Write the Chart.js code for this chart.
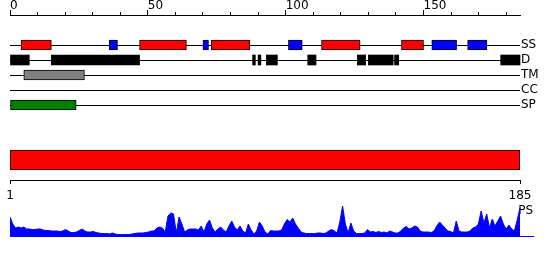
<!DOCTYPE html>
<html>
<head>
<meta charset="utf-8">
<script src="https://cdn.jsdelivr.net/npm/chart.js@4/dist/chart.umd.min.js"></script>
<style>
  html, body { margin: 0; padding: 0; background: #fff; }
  #wrap { position: relative; width: 550px; height: 260px; overflow: hidden; }
  canvas { position: absolute; left: 0; }
</style>
</head>
<body>
<div id="wrap">
  <canvas id="tracks" width="550" height="130" style="top:0px"></canvas>
  <canvas id="seq" width="550" height="69" style="top:140px"></canvas>
  <canvas id="ps" width="550" height="49" style="top:195px"></canvas>
</div>
<script>
// ---------------- data ----------------
const rulerMax = 185;
const rulerStep = 10;
const rulerLabelEvery = 50;
const rowLabels = ['', ' ', 'SS', 'D', 'TM', 'CC', 'SP', '  '];

const ssHelix = [[4, 15], [47, 64], [73, 87], [113, 127], [142, 150]];
const ssStrand = [[36, 39], [70, 72], [101, 106], [153, 162], [166, 173]];
const disorder = [[0, 7], [15, 47], [88, 89], [90, 91], [93, 97], [108, 111], [126, 129], [130, 139], [139.5, 141], [178, 185]];
const transmembrane = [[5, 27]];
const coiledCoil = [];
const signalPeptide = [[0, 24]];

const seqStart = 1;
const seqEnd = 185;
const seqTicks = [1, 185];

const psLabel = 'PS';
const psValues = [
  19, 12, 8, 9, 8, 9, 7, 7, 6.5, 6.5,
  7, 7, 6, 5.5, 5.5, 5, 5, 5, 4.5, 5,
  6.5, 5, 3.5, 3.5, 4, 5.5, 7, 5, 4, 4,
  4.5, 3.5, 3, 2.5, 2.5, 2.5, 2, 3, 2, 1.5,
  1.5, 1.5, 1.5, 1.5, 2, 2.5, 3, 3, 3, 3.5,
  4, 5, 5, 8, 9, 8, 4, 20, 23, 22,
  3, 19, 12, 4, 6, 7, 7, 7, 6, 10,
  4, 12, 16, 8, 4, 7, 9, 6, 4, 10,
  15, 9, 6, 10, 5, 3, 12, 6, 2, 5,
  14, 10, 4, 2, 5.5, 5, 5, 5, 6, 12,
  16.5, 14, 18, 12, 8, 4, 3, 2.5, 2.5, 2.5,
  2.5, 3, 3, 2.5, 3, 5, 6.5, 5, 3, 14,
  30, 12, 3, 13, 5, 2.5, 2.5, 2.5, 3, 6.5,
  4, 4.5, 3.5, 4.5, 3.5, 4, 3, 5, 4, 3,
  3, 5, 8, 9.5, 7, 8, 10, 9, 5, 4,
  4, 4, 3.5, 5, 10, 14, 11, 8, 5, 4.5,
  3, 15, 5, 4, 4, 4, 5, 8, 9, 12,
  25, 13, 22, 8, 17, 10, 15, 20, 12, 7,
  11, 7, 5, 16, 28
];

// ---------------- styling ----------------
Chart.defaults.font.family = "'DejaVu Sans', sans-serif";
Chart.defaults.font.size = 12;
Chart.defaults.color = '#000';
const common = {
  responsive: false,
  animation: false,
  devicePixelRatio: 1,
  events: [],
  plugins: { legend: { display: false }, tooltip: { enabled: false } }
};

function trackData(ranges, row) {
  return ranges.map(([a, b]) => ({ y: row, x: [a, b] }));
}
function trackSet(ranges, row, fill, border) {
  return {
    data: trackData(ranges, row),
    backgroundColor: fill,
    borderColor: border,
    borderWidth: border ? 1 : 0,
    borderSkipped: false,
    barThickness: 10,
    grouped: false,
    clip: false
  };
}

// ---------------- chart 1 : ruler + tracks ----------------
new Chart(document.getElementById('tracks'), {
  type: 'bar',
  data: {
    labels: rowLabels,
    datasets: [
      trackSet(ssHelix, 'SS', '#ff0000', '#000'),
      trackSet(ssStrand, 'SS', '#0000ff', '#000'),
      trackSet(disorder, 'D', '#000', null),
      trackSet(transmembrane, 'TM', '#808080', '#000'),
      trackSet(coiledCoil, 'CC', '#000', '#000'),
      trackSet(signalPeptide, 'SP', '#008000', '#000')
    ]
  },
  options: Object.assign({}, common, {
    indexAxis: 'y',
    layout: { padding: { left: 10, right: 0, top: 0, bottom: 10 } },
    scales: {
      x: {
        type: 'linear',
        position: 'top',
        min: 0,
        max: rulerMax,
        afterFit: (s) => { s.height = 15; },
        ticks: {
          stepSize: rulerStep,
          includeBounds: false,
          autoSkip: false,
          maxRotation: 0,
          align: 'start',
          padding: -3,
          callback: (v) => (v % rulerLabelEvery === 0 ? String(v) : '')
        },
        grid: {
          drawOnChartArea: false,
          drawTicks: true,
          tickLength: 5,
          tickColor: '#000',
          tickWidth: 1,
          tickBorderDash: (ctx) => (ctx.tick && ctx.tick.value % rulerLabelEvery === 0 ? [] : [3, 2]),
          tickBorderDashOffset: (ctx) => (ctx.tick && ctx.tick.value % rulerLabelEvery === 0 ? 0 : 3)
        },
        border: { display: true, color: '#000', width: 1 }
      },
      y: {
        type: 'category',
        position: 'right',
        offset: false,
        afterFit: (s) => { s.width = 30; },
        ticks: { padding: 1, autoSkip: false },
        grid: {
          offset: false,
          drawTicks: false,
          color: (ctx) => (ctx.tick && String(ctx.tick.label).trim() !== '' ? '#000' : 'rgba(0,0,0,0)'),
          lineWidth: 1
        },
        border: { display: false }
      }
    }
  })
});

// ---------------- chart 2 : sequence bar + axis ----------------
new Chart(document.getElementById('seq'), {
  type: 'bar',
  data: {
    labels: ['seq'],
    datasets: [{
      data: [{ y: 'seq', x: [seqStart, seqEnd] }],
      backgroundColor: '#ff0000',
      borderColor: '#000',
      borderWidth: 1,
      borderSkipped: false,
      barThickness: 20
    }]
  },
  options: Object.assign({}, common, {
    indexAxis: 'y',
    layout: { padding: { left: 10, right: 30, top: 0, bottom: 0 } },
    scales: {
      x: {
        type: 'linear',
        position: 'bottom',
        min: seqStart,
        max: seqEnd,
        afterBuildTicks: (s) => { s.ticks = seqTicks.map((v) => ({ value: v })); },
        afterFit: (s) => { s.height = 29; },
        ticks: { padding: 5, autoSkip: false, maxRotation: 0, callback: (v) => String(v) },
        grid: { drawOnChartArea: false, tickLength: 4, tickColor: '#000' },
        border: { display: true, color: '#000', width: 1 }
      },
      y: { display: false }
    }
  })
});

// ---------------- chart 3 : PS profile ----------------
new Chart(document.getElementById('ps'), {
  type: 'line',
  data: {
    datasets: [{
      data: psValues.map((v, i) => ({ x: seqStart + i, y: v })),
      fill: 'origin',
      backgroundColor: '#0000ff',
      borderColor: '#0000ff',
      borderWidth: 1,
      pointRadius: 0,
      tension: 0
    }]
  },
  options: Object.assign({}, common, {
    layout: { padding: { left: 10, right: 0, top: 11, bottom: 8 } },
    scales: {
      x: {
        type: 'linear',
        min: seqStart,
        max: 189.7,
        afterFit: (s) => { s.height = 0; },
        ticks: { display: false },
        grid: { drawOnChartArea: false, drawTicks: false },
        border: { display: true, color: '#0000ff', width: 1 }
      },
      y: {
        type: 'linear',
        position: 'right',
        min: 0,
        max: 30,
        afterBuildTicks: (s) => { s.ticks = [{ value: 25 }]; },
        afterFit: (s) => { s.width = 17; },
        ticks: { mirror: true, padding: 0, callback: () => psLabel },
        grid: { display: false },
        border: { display: false }
      }
    }
  })
});
</script>
</body>
</html>
